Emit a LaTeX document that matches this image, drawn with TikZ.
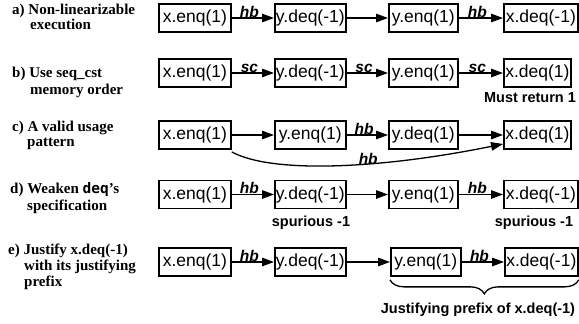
\documentclass[tikz,border=0pt]{standalone}
\usepackage{fontspec}
\setmainfont{Liberation Serif}
\setsansfont{Liberation Sans}
\newfontfamily\dqmono{DejaVu Sans Mono}
\usetikzlibrary{arrows.meta,decorations.pathreplacing}
\begin{document}
\begin{tikzpicture}[x=1pt,y=-1pt,
  op/.style={draw,line width=1.7pt,minimum height=28pt,inner xsep=0pt,inner ysep=0pt,anchor=west,
    font=\sffamily\fontsize{17.5}{18}\selectfont},
  arr/.style={line width=1.3pt,-{Triangle[length=12pt,width=8.5pt]}},
  rel/.style={above=-1pt,pos=0.42,inner sep=1pt,font=\sffamily\bfseries\itshape\fontsize{15.5}{16}\selectfont},
  leftcap/.style={anchor=base west,inner sep=0pt,font=\rmfamily\bfseries\fontsize{15}{15}\selectfont},
  note/.style={inner sep=0pt,font=\sffamily\bfseries\fontsize{14.5}{15}\selectfont}
]
\useasboundingbox (0,0) rectangle (579,324);

% ---------- left captions
\node[leftcap] (la1) at (12,15) {a) Non-linearizable};
\node[leftcap] (la2) at (30,30) {execution};
\node[leftcap] (lb1) at (12,77) {b) Use seq\_cst};
\node[leftcap] (lb2) at (30,94) {memory order};
\node[leftcap] (lc1) at (12,131) {c) A valid usage};
\node[leftcap] (lc2) at (27,146) {pattern};
\node[leftcap] (ld1) at (10,193) {d) Weaken {\dqmono\fontsize{14.5}{15}\selectfont deq}'s};
\node[leftcap] (ld2) at (27,210) {specification};
\node[leftcap] (le1) at (8,254) {e) Justify x.deq(-1)};
\node[leftcap] (le2) at (24,270) {with its justifying};
\node[leftcap] (le3) at (24,286) {prefix};

% ---------- row a
\node[op,minimum width=72pt] (a1) at (158,18) {x.enq(1)};
\node[op,minimum width=71pt] (a2) at (274,18) {y.deq(-1)};
\node[op,minimum width=69pt] (a3) at (388,18) {y.enq(1)};
\node[op,minimum width=74pt] (a4) at (503,18) {x.deq(-1)};
\draw[arr] (a1) -- node[rel]{hb} (a2);
\draw[arr] (a2) -- (a3);
\draw[arr] (a3) -- node[rel]{hb} (a4);

% ---------- row b
\node[op,minimum width=72pt] (b1) at (158,73) {x.enq(1)};
\node[op,minimum width=71pt] (b2) at (274,73) {y.deq(-1)};
\node[op,minimum width=69pt] (b3) at (388,73) {y.enq(1)};
\node[op,minimum width=67pt] (b4) at (503,73) {x.deq(1)};
\draw[arr] (b1) -- node[rel]{sc} (b2);
\draw[arr] (b2) -- node[rel]{sc} (b3);
\draw[arr] (b3) -- node[rel]{sc} (b4);
\node[note] (mr) at (530,98) {Must return 1};

% ---------- row c
\node[op,minimum width=72pt] (c1) at (158,135) {x.enq(1)};
\node[op,minimum width=71pt] (c2) at (274,135) {y.enq(1)};
\node[op,minimum width=69pt] (c3) at (388,135) {y.deq(1)};
\node[op,minimum width=67pt] (c4) at (503,135) {x.deq(1)};
\draw[arr] (c1) -- (c2);
\draw[arr] (c2) -- node[rel]{hb} (c3);
\draw[arr] (c3) -- (c4);
\draw[arr] ([yshift=-2pt]c1.south east) .. controls +(40,22) and +(-123,25) ..
  node[pos=0.5,above=-1pt,inner sep=1pt,font=\sffamily\bfseries\itshape\fontsize{15.5}{16}\selectfont,xshift=32pt]{hb}
  ([yshift=-9pt]c4.west);

% ---------- row d
\node[op,minimum width=72pt] (d1) at (158,194.5) {x.enq(1)};
\node[op,minimum width=71pt] (d2) at (274,194.5) {y.deq(-1)};
\node[op,minimum width=69pt] (d3) at (388,194.5) {y.enq(1)};
\node[op,minimum width=74pt] (d4) at (503,194.5) {x.deq(-1)};
\draw[arr] (d1) -- node[rel]{hb} (d2);
\draw[arr] (d2) -- (d3);
\draw[arr] (d3) -- node[rel]{hb} (d4);
\node[note] (sp1) at (311,223) {spurious -1};
\node[note] (sp2) at (534,223) {spurious -1};

% ---------- row e
\node[op,minimum width=72pt] (e1) at (158,262) {x.enq(1)};
\node[op,minimum width=71pt] (e2) at (274,262) {y.deq(-1)};
\node[op,minimum width=70pt] (e3) at (390,262) {y.enq(1)};
\node[op,minimum width=73pt] (e4) at (504,262) {x.deq(-1)};
\draw[arr] (e1) -- node[rel]{hb} (e2);
\draw[arr] (e2) -- (e3);
\draw[arr] (e3) -- node[rel]{hb} (e4);
\draw[line width=1.3pt,decorate,decoration={brace,mirror,amplitude=14pt}]
  ([yshift=-3pt]e3.south west) -- ([yshift=-3pt]e4.south east);
\node[note] (jp) at (478,310) {Justifying prefix of x.deq(-1)};
\end{tikzpicture}
\end{document}
